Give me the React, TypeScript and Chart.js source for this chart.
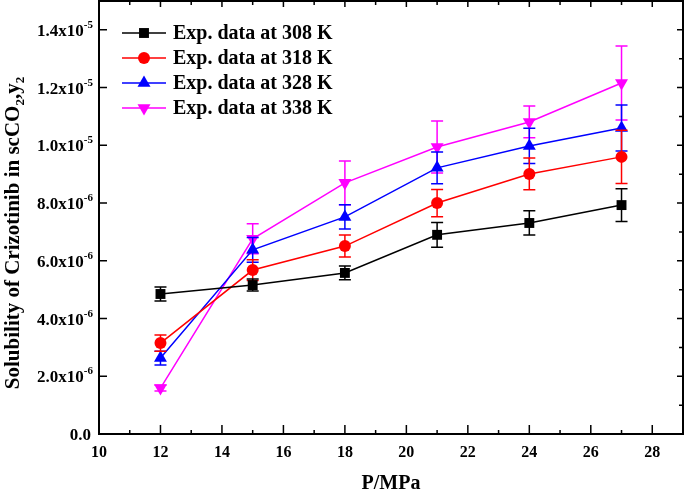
import React, { useEffect, useRef } from 'react';
import { Chart, registerables } from 'chart.js';

Chart.register(...registerables);

const FONT = "'Liberation Serif', 'Times New Roman', serif";

const pressures = [12, 15, 18, 21, 24, 27];
const seriesLabels = ['Exp. data at 308 K', 'Exp. data at 318 K', 'Exp. data at 328 K', 'Exp. data at 338 K'];
const seriesColors = ['#000000', '#ff0000', '#0000ff', '#ff00ff'];

const sol308 = [4.85e-6, 5.16e-6, 5.58e-6, 6.9e-6, 7.31e-6, 7.93e-6];
const err308 = [0.24e-6, 0.21e-6, 0.24e-6, 0.43e-6, 0.42e-6, 0.57e-6];
const sol318 = [3.15e-6, 5.68e-6, 6.51e-6, 8.0e-6, 9.01e-6, 9.6e-6];
const err318 = [0.28e-6, 0.36e-6, 0.38e-6, 0.47e-6, 0.55e-6, 0.92e-6];
const sol328 = [2.63e-6, 6.38e-6, 7.52e-6, 9.22e-6, 9.98e-6, 10.6e-6];
const err328 = [0.24e-6, 0.43e-6, 0.42e-6, 0.55e-6, 0.61e-6, 0.8e-6];
const sol338 = [1.59e-6, 6.76e-6, 8.7e-6, 9.94e-6, 10.81e-6, 12.16e-6];
const err338 = [0.1e-6, 0.52e-6, 0.76e-6, 0.9e-6, 0.55e-6, 1.28e-6];

const xTickValues = [10, 12, 14, 16, 18, 20, 22, 24, 26, 28];
const yTickValues = [0, 2e-6, 4e-6, 6e-6, 8e-6, 1.0e-5, 1.2e-5, 1.4e-5];

const xTitle = 'P/MPa';
const yTitleParts = [
  { t: 'Solubility of Crizotinib in scCO', sub: false },
  { t: '2', sub: true },
  { t: ',y', sub: false },
  { t: '2', sub: true },
];

const markerStyles = [
  { style: 'rect', radius: 7, rotation: 0 },
  { style: 'circle', radius: 6, rotation: 0 },
  { style: 'triangle', radius: 7.5, rotation: 0 },
  { style: 'triangle', radius: 7.5, rotation: 180 },
];

function drawMarker(ctx: CanvasRenderingContext2D, k: number, x: number, y: number) {
  const m = markerStyles[k];
  ctx.save();
  ctx.fillStyle = seriesColors[k];
  ctx.beginPath();
  if (m.style === 'rect') {
    const s = m.radius * Math.SQRT1_2;
    ctx.rect(x - s, y - s, 2 * s, 2 * s);
  } else if (m.style === 'circle') {
    ctx.arc(x, y, m.radius, 0, Math.PI * 2);
  } else {
    let rad = (m.rotation * Math.PI) / 180;
    for (let i = 0; i < 3; i++) {
      const px = x + Math.sin(rad) * m.radius;
      const py = y - Math.cos(rad) * m.radius;
      if (i === 0) ctx.moveTo(px, py);
      else ctx.lineTo(px, py);
      rad += (2 * Math.PI) / 3;
    }
    ctx.closePath();
  }
  ctx.fill();
  ctx.restore();
}

export default function App() {
  const ref = useRef<HTMLCanvasElement>(null);

  useEffect(() => {
    const canvas = ref.current!;
    const series = [sol308, sol318, sol328, sol338];
    const errors = [err308, err318, err328, err338];

    const datasets = series.map((vals, k) => ({
      label: seriesLabels[k],
      data: pressures.map((p, i) => ({ x: p, y: vals[i] })),
      borderColor: seriesColors[k],
      backgroundColor: seriesColors[k],
      borderWidth: 1.5,
      pointStyle: markerStyles[k].style,
      pointRadius: markerStyles[k].radius,
      pointHoverRadius: markerStyles[k].radius,
      pointRotation: markerStyles[k].rotation,
      pointBorderWidth: 0,
      pointBackgroundColor: seriesColors[k],
      tension: 0,
    }));

    const decorPlugin = {
      id: 'decor',
      beforeDatasetDraw(chart: any, args: any) {
        const k = args.index;
        const errs = errors[k];
        const ys = chart.scales.y;
        const ctx = chart.ctx as CanvasRenderingContext2D;
        ctx.save();
        ctx.strokeStyle = seriesColors[k];
        ctx.lineWidth = 1.5;
        args.meta.data.forEach((pt: any, i: number) => {
          const v = series[k][i];
          const x = pt.x;
          const yTop = ys.getPixelForValue(v + errs[i]);
          const yBot = ys.getPixelForValue(v - errs[i]);
          ctx.beginPath();
          ctx.moveTo(x, yTop);
          ctx.lineTo(x, yBot);
          ctx.moveTo(x - 6, yTop);
          ctx.lineTo(x + 6, yTop);
          ctx.moveTo(x - 6, yBot);
          ctx.lineTo(x + 6, yBot);
          ctx.stroke();
        });
        ctx.restore();
      },
      afterDraw(chart: any) {
        const ctx = chart.ctx as CanvasRenderingContext2D;
        const { left, right, top, bottom } = chart.chartArea;
        const xs = chart.scales.x;
        const ys = chart.scales.y;
        ctx.save();
        ctx.strokeStyle = '#000';
        ctx.lineWidth = 2;
        ctx.strokeRect(left, top, right - left, bottom - top);
        ctx.lineWidth = 1.5;
        ctx.beginPath();
        for (let v = 10; v <= 29; v++) {
          const px = xs.getPixelForValue(v);
          const major = v % 2 === 0;
          const lb = major ? 9 : 4;
          ctx.moveTo(px, bottom);
          ctx.lineTo(px, bottom - lb);
          ctx.moveTo(px, top);
          ctx.lineTo(px, top + (major ? 6 : 4));
        }
        for (let i = 0; i <= 15; i++) {
          const v = i * 1e-6;
          const py = ys.getPixelForValue(v);
          const major = i % 2 === 0;
          if (major) {
            ctx.moveTo(left, py);
            ctx.lineTo(left + 8, py);
          }
          ctx.moveTo(right, py);
          ctx.lineTo(right - (major ? 6 : 4), py);
        }
        ctx.stroke();

        // y tick labels with superscript exponents
        ctx.fillStyle = '#000';
        ctx.textBaseline = 'alphabetic';
        ctx.textAlign = 'left';
        const rightEdge = 93;
        yTickValues.forEach((v) => {
          const py = ys.getPixelForValue(v);
          ctx.font = `bold 17px ${FONT}`;
          if (v === 0) {
            const w = ctx.measureText('0.0').width;
            ctx.fillText('0.0', rightEdge - 2 - w, py + 6);
            return;
          }
          const exp = Math.floor(Math.log10(v) + 1e-6);
          const mant = (v / Math.pow(10, exp)).toFixed(1);
          const base = mant + 'x10';
          const sup = String(exp);
          const baseW = ctx.measureText(base).width;
          ctx.font = `bold 11px ${FONT}`;
          const supW = ctx.measureText(sup).width;
          ctx.fillText(sup, rightEdge - supW, py - 2);
          ctx.font = `bold 17px ${FONT}`;
          ctx.fillText(base, rightEdge - supW - baseW, py + 6);
        });

        // y title with subscripts
        ctx.save();
        ctx.translate(19, 233);
        ctx.rotate(-Math.PI / 2);
        const mainFont = `bold 21px ${FONT}`;
        const subFont = `bold 13px ${FONT}`;
        let total = 0;
        yTitleParts.forEach((p) => {
          ctx.font = p.sub ? subFont : mainFont;
          total += ctx.measureText(p.t).width;
        });
        let cx = -total / 2;
        yTitleParts.forEach((p) => {
          ctx.font = p.sub ? subFont : mainFont;
          ctx.fillText(p.t, cx, p.sub ? 5 : 0);
          cx += ctx.measureText(p.t).width;
        });
        ctx.restore();

        // legend
        const rowY = [33, 58, 83, 108];
        seriesLabels.forEach((lab, k) => {
          const y = rowY[k];
          ctx.strokeStyle = seriesColors[k];
          ctx.lineWidth = 1.5;
          ctx.beginPath();
          ctx.moveTo(122, y);
          ctx.lineTo(166, y);
          ctx.stroke();
          drawMarker(ctx, k, 144, y);
          ctx.fillStyle = '#000';
          ctx.font = `bold 20px ${FONT}`;
          ctx.textBaseline = 'middle';
          ctx.fillText(lab, 173, y + 1);
        });
        ctx.restore();
      },
    };

    const chart = new Chart(canvas, {
      type: 'line',
      data: { datasets: datasets as any },
      options: {
        animation: false,
        responsive: false,
        devicePixelRatio: 1,
        layout: { autoPadding: false, padding: { top: 1, right: 2, left: 0, bottom: 0 } },
        plugins: { legend: { display: false }, tooltip: { enabled: false } },
        scales: {
          x: {
            type: 'linear',
            min: 10,
            max: 29,
            grid: { display: false, drawTicks: false },
            border: { display: false },
            afterBuildTicks: (scale: any) => {
              scale.ticks = xTickValues.map((v) => ({ value: v }));
            },
            ticks: {
              stepSize: 2,
              color: '#000',
              padding: 9,
              maxRotation: 0,
              font: { family: FONT, size: 16, weight: 'bold' },
            },
            title: {
              display: true,
              text: xTitle,
              color: '#000',
              padding: { top: 0, bottom: 1 },
              font: { family: FONT, size: 20, weight: 'bold' },
            },
            afterFit: (scale: any) => {
              scale.height = 63;
              scale.paddingLeft = 0;
              scale.paddingRight = 0;
            },
          },
          y: {
            type: 'linear',
            min: 0,
            max: 1.5e-5,
            grid: { display: false, drawTicks: false },
            border: { display: false },
            ticks: { display: false },
            afterFit: (scale: any) => {
              scale.width = 99;
              scale.paddingTop = 0;
              scale.paddingBottom = 0;
            },
          },
        },
      },
      plugins: [decorPlugin],
    } as any);

    return () => chart.destroy();
  }, []);

  return (
    <div style={{ position: 'absolute', left: 0, top: 0, width: 685, height: 497, background: '#fff' }}>
      <canvas ref={ref} width={685} height={497} style={{ display: 'block' }} />
    </div>
  );
}
